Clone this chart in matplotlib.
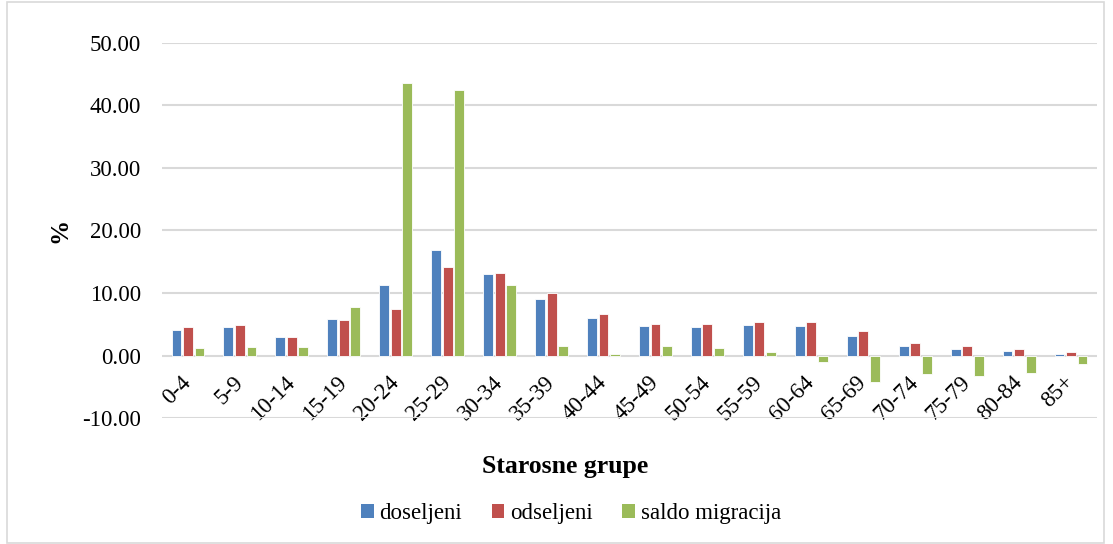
import numpy as np
import matplotlib
matplotlib.use('Agg')
import matplotlib.pyplot as plt
from matplotlib.patches import Patch, Rectangle

# age groups
categories = ['0-4', '5-9', '10-14', '15-19', '20-24', '25-29', '30-34', '35-39',
              '40-44', '45-49', '50-54', '55-59', '60-64', '65-69', '70-74',
              '75-79', '80-84', '85+']
doseljeni = [4.15, 4.6, 2.9, 5.9, 11.2, 16.9, 13.0, 9.1, 6.0, 4.7, 4.6, 4.95,
             4.7, 3.2, 1.5, 1.1, 0.7, 0.27]
odseljeni = [4.5, 4.95, 3.0, 5.7, 7.5, 14.1, 13.2, 9.95, 6.7, 5.0, 5.1, 5.4,
             5.4, 4.0, 2.0, 1.6, 1.1, 0.54]
saldo = [1.2, 1.4, 1.4, 7.7, 43.6, 42.4, 11.3, 1.5, 0.3, 1.56, 1.13, 0.5,
         -1.0, -4.2, -2.96, -3.3, -2.8, -1.4]
series_names = ['doseljeni', 'odseljeni', 'saldo migracija']
colors = ['#4F81BD', '#C0504D', '#9BBB59']
yticks = [-10, 0, 10, 20, 30, 40, 50]

plt.rcParams['font.family'] = ['Liberation Serif', 'DejaVu Serif']
FS = 16.5

fig = plt.figure(figsize=(11.13, 5.44), dpi=100)
ax = fig.add_axes([0.1456, 0.2316, 0.84, 0.6894])

x = np.arange(len(categories))
width = 0.19
step = 0.222
for i, (vals, col) in enumerate(zip([doseljeni, odseljeni, saldo], colors)):
    ax.bar(x + (i - 1) * step, vals, width=width, color=col,
           edgecolor='white', linewidth=0.6, zorder=3)

ax.set_xlim(-0.5, len(categories) - 0.5)
ax.set_ylim(-10, 50)
ax.set_yticks(yticks)
ax.set_yticklabels([f'{v:.2f}' for v in yticks], fontsize=FS)
ax.grid(axis='y', color='#D9D9D9', linewidth=1.5, zorder=0)
ax.set_axisbelow(True)
for s in ['top', 'right', 'left']:
    ax.spines[s].set_visible(False)
ax.spines['bottom'].set_position(('data', 0))
ax.spines['bottom'].set_visible(False)
ax.tick_params(axis='both', length=0)
ax.tick_params(axis='y', pad=15)
ax.tick_params(axis='x', pad=17)

ax.set_xticks(x)
ax.set_xticklabels(categories, fontsize=FS, rotation=45, ha='right',
                   rotation_mode='anchor')
plt.setp(ax.get_xticklabels(), va='center')

fig.text(0.508, 1 - 466 / 544, 'Starosne grupe', ha='center', va='center',
         fontsize=18.5, fontweight='bold')
fig.text(60 / 1113, 1 - 230 / 544, '%', ha='center', va='center',
         rotation=90, fontsize=18, fontweight='bold')

handles = [Patch(facecolor=c, edgecolor='none') for c in colors]
fig.legend(handles, series_names, loc='center', ncol=3,
           bbox_to_anchor=(0.513, 1 - 514 / 544), frameon=False,
           fontsize=FS, handlelength=0.55, handleheight=0.55,
           handletextpad=0.25, columnspacing=1.3)

fig.patches.append(Rectangle((7 / 1113, 0.002), 1097 / 1113, 0.995,
                             transform=fig.transFigure, fill=False,
                             edgecolor='#D9D9D9', linewidth=1.2))

fig.savefig('out.png', dpi=100)
